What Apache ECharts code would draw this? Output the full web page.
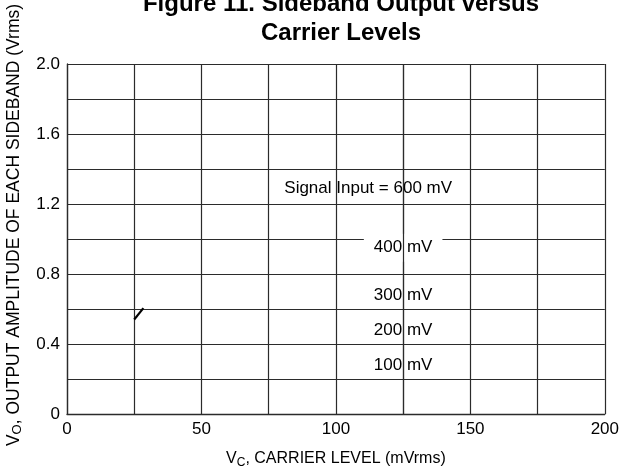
<!DOCTYPE html>
<html><head><meta charset="utf-8">
<script src="https://cdn.jsdelivr.net/npm/echarts@6/dist/echarts.min.js"></script>
<style>html,body{margin:0;padding:0;background:#fff}#c{width:622px;height:474px}</style>
</head><body><div id="c"></div>
<script>
// Axis ranges / ticks
const xTicks = [0, 50, 100, 150, 200];
const yTicks = [0, 0.4, 0.8, 1.2, 1.6, 2.0];
// Visible curve fragment (only a short piece of a curve appears)
const curveX = [25, 28.4];
const curveY = [0.54, 0.605];
// Curve annotations
const labelText = ['Signal Input = 600 mV', '400 mV', '300 mV', '200 mV', '100 mV'];
const labelX = [112, 125, 125, 125, 125];
const labelY = [1.29, 0.95, 0.68, 0.48, 0.28];
const maskedLabel = '400 mV';
const overlayGridX = [125];

const FONT = 'Liberation Sans, Arial, sans-serif';
const chart = echarts.init(document.getElementById('c'));
const axisColor = '#2b2b2b';

const labelStyle = {
  show: true, position: 'inside', formatter: p => p.name,
  fontFamily: FONT, fontSize: 17, color: '#000', opacity: 1,
  textBorderWidth: 0, textBorderColor: 'transparent'
};

chart.setOption({
  animation: false,
  backgroundColor: '#fff',
  title: {
    text: 'Figure 11. Sideband Output versus\nCarrier Levels',
    left: 336, top: -15, textAlign: 'center',
    textStyle: {fontFamily: FONT, fontWeight: 'bold', fontSize: 24, lineHeight: 29, color: '#000'}
  },
  grid: {left: 67, right: 14, top: 64, bottom: 60},
  xAxis: {
    type: 'value', min: 0, max: 200, interval: 25,
    axisLine: {lineStyle: {color: axisColor, width: 1.3}},
    axisTick: {show: false},
    splitLine: {lineStyle: {color: axisColor, width: 1.2}},
    axisLabel: {color: '#000', fontFamily: FONT, fontSize: 17, margin: 7,
      formatter: v => xTicks.indexOf(v) >= 0 ? String(v) : ''},
    name: '{a|V}{s|C}{a|, CARRIER LEVEL (mVrms)}',
    nameLocation: 'middle', nameGap: 37,
    nameTextStyle: {rich: {
      a: {fontFamily: FONT, fontSize: 16, color: '#000', lineHeight: 20, verticalAlign: 'top'},
      s: {fontFamily: FONT, fontSize: 12, color: '#000', lineHeight: 20, verticalAlign: 'top', padding: [6, 0, 0, 0]}
    }}
  },
  yAxis: {
    type: 'value', min: 0, max: 2.0, interval: 0.2,
    axisLine: {show: true, lineStyle: {color: axisColor, width: 1.3}},
    axisTick: {show: false},
    splitLine: {lineStyle: {color: axisColor, width: 1.2}},
    axisLabel: {color: '#000', fontFamily: FONT, fontSize: 17, margin: 7,
      formatter: v => {
        const t = yTicks.find(y => Math.abs(y - v) < 1e-6);
        if (t === undefined) return '';
        return t === 0 ? '0' : t.toFixed(1);
      }}
  },
  graphic: [{
    type: 'text', x: 15, y: 225, rotation: Math.PI / 2,
    style: {
      text: '{a|V}{s|O}{a|, OUTPUT AMPLITUDE OF EACH SIDEBAND (Vrms)}',
      align: 'center', verticalAlign: 'middle',
      rich: {
        a: {fontFamily: FONT, fontSize: 17.5, fill: '#000', lineHeight: 20, verticalAlign: 'top'},
        s: {fontFamily: FONT, fontSize: 13, fill: '#000', lineHeight: 20, verticalAlign: 'top', padding: [6, 0, 0, 0]}
      }
    }
  }],
  series: [
    {
      type: 'line', data: curveX.map((x, i) => [x, curveY[i]]),
      symbol: 'none', lineStyle: {color: '#000', width: 2.2}, z: 3
    },
    {
      type: 'scatter', symbolSize: 1, z: 2,
      data: labelText.map((t, i) => ({value: [labelX[i], labelY[i]], name: t})).filter(d => d.name !== maskedLabel),
      label: labelStyle,
      labelLayout: {hideOverlap: false},
      itemStyle: {color: 'rgba(0,0,0,0)', opacity: 1}
    },
    {
      type: 'scatter', symbolSize: 1, z: 2,
      data: labelText.map((t, i) => ({value: [labelX[i], labelY[i]], name: t})).filter(d => d.name === maskedLabel),
      label: Object.assign({}, labelStyle, {backgroundColor: '#fff', padding: [7, 10, 4, 10]}),
      itemStyle: {color: 'rgba(0,0,0,0)', opacity: 1}
    },
    {
      type: 'line', data: [], z: 10,
      markLine: {
        silent: true, symbol: 'none', animation: false,
        label: {show: false},
        lineStyle: {color: axisColor, width: 1.2, type: 'solid'},
        data: overlayGridX.map(x => ({xAxis: x}))
      }
    }
  ]
});
</script></body></html>
